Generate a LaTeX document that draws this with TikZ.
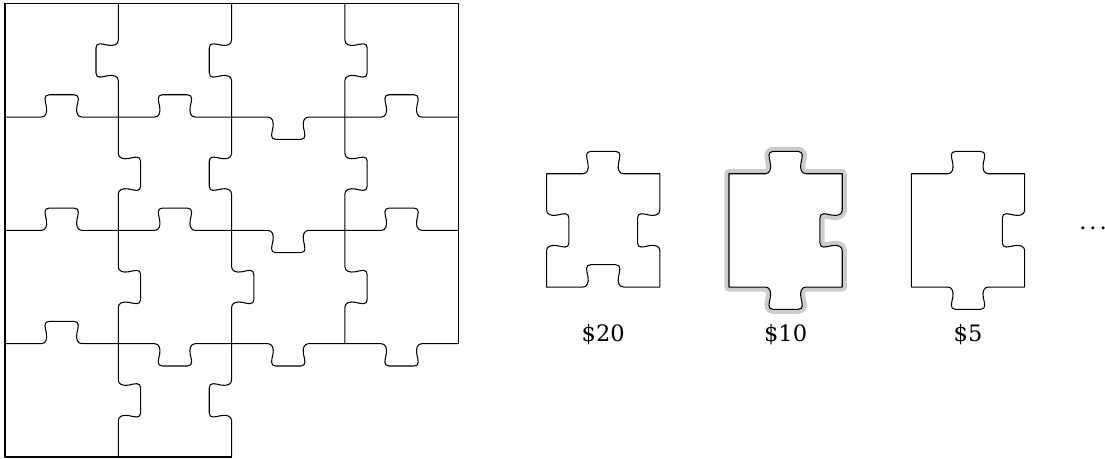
\documentclass[tikz,border=0pt]{standalone}
\usepackage{fontspec}
\setmainfont{DejaVu Serif}
\usepackage{tikz}

% one side of a piece, from (0,0) to (1,0); #2 = +1 tab to the left, -1 blank, 0 flat
\newcommand{\tabside}[2]{%
  {[#1] -- (0.32,0) .. controls (0.36,0) and (0.375,{0.04*#2}) .. (0.365,{0.094*#2})
   .. controls (0.355,{0.14*#2}) and (0.335,{0.197*#2}) .. (0.39,{0.197*#2})
   -- (0.61,{0.197*#2})
   .. controls (0.665,{0.197*#2}) and (0.645,{0.14*#2}) .. (0.635,{0.094*#2})
   .. controls (0.625,{0.04*#2}) and (0.64,0) .. (0.68,0) -- (1,0)}}
% a loose piece: left x, then top/right/bottom/left
\newcommand{\looseprice}[5]{%
  (#1,2.5) \tabside{shift={(#1,2.5)}}{#2}
  \tabside{shift={({#1+1},2.5)},rotate=-90}{#3}
  \tabside{shift={({#1+1},1.5)},rotate=180}{#4}
  \tabside{shift={(#1,1.5)},rotate=90}{#5} -- cycle}

\begin{document}
\begin{tikzpicture}[x=3cm,y=3cm,
   cutline/.style={draw=black,line width=0.8pt,line join=round},
   halo/.style={draw=black!20,line width=7pt,line join=round},
   price/.style={font=\fontsize{17}{20}\selectfont,anchor=base,inner sep=0pt}]
  \useasboundingbox (-0.0441,-0.0177) rectangle (9.709,4.0335);
  % frame of the puzzle
  \draw[cutline] (2,0) -- (0,0) -- (0,4) -- (4,4) -- (4,1);
  % horizontal seams
  \foreach \x/\y/\s in {0/3/1,1/3/1,2/3/-1,3/3/1,
                        0/2/1,1/2/1,2/2/-1,3/2/1,
                        0/1/1,1/1/-1,2/1/-1,3/1/-1}
    \draw[cutline] (\x,\y) \tabside{shift={(\x,\y)}}{\s};
  % vertical seams (drawn upwards)
  \foreach \x/\y/\s in {1/0/-1,1/1/-1,1/2/-1,1/3/1,
                        2/0/1,2/1/-1,2/2/1,2/3/1,
                        3/1/-1,3/2/-1,3/3/-1}
    \draw[cutline] (\x,\y) \tabside{shift={(\x,\y)},rotate=90}{\s};
  % loose pieces and their prices
  \draw[cutline] \looseprice{4.78}{1}{-1}{-1}{-1};
  \draw[halo] \looseprice{6.39}{1}{-1}{1}{0};
  \filldraw[cutline,fill=white] \looseprice{6.39}{1}{-1}{1}{0};
  \draw[cutline] \looseprice{8.0}{1}{-1}{1}{0};
  \node[price] (p20) at (5.28,1.015) {\$20};
  \node[price] (p10) at (6.89,1.015) {\$10};
  \node[price] (p5) at (8.5,1.015) {\$5};
  \node[price,anchor=base west] (more) at (9.48,2.004) {.\kern2.2pt.\kern2.2pt.};
\end{tikzpicture}
\end{document}
